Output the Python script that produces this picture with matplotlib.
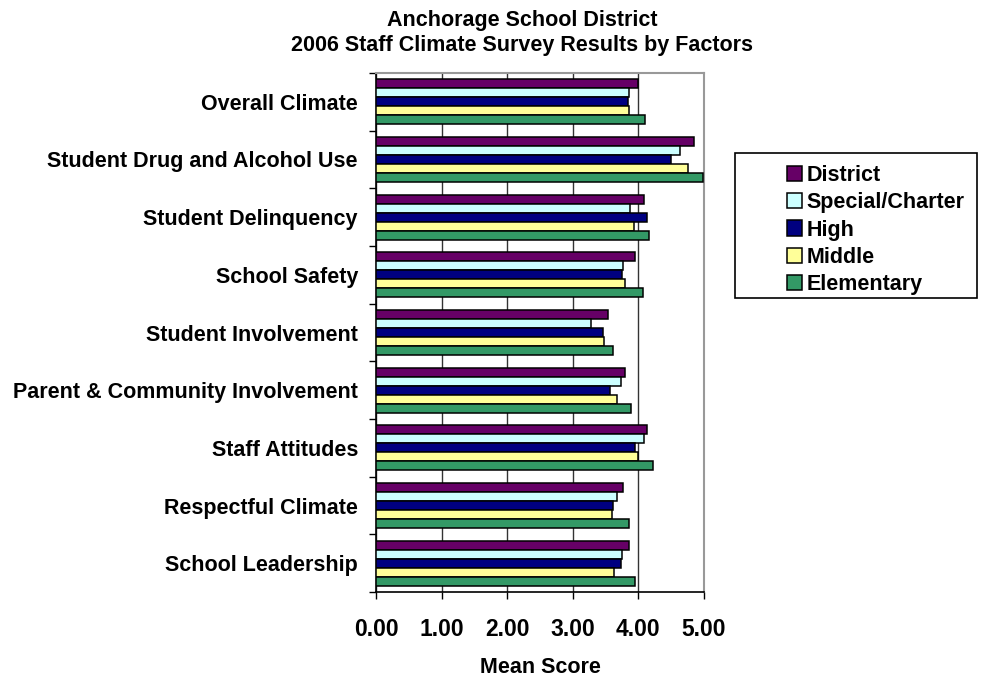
import matplotlib.pyplot as plt
from matplotlib.patches import Rectangle, Patch
import numpy as np

plt.rcParams['font.family'] = ['Liberation Sans', 'DejaVu Sans']
plt.rcParams['font.weight'] = 'bold'

factors = ["Overall Climate", "Student Drug and Alcohol Use", "Student Delinquency",
           "School Safety", "Student Involvement", "Parent & Community Involvement",
           "Staff Attitudes", "Respectful Climate", "School Leadership"]

series_names = ["District", "Special/Charter", "High", "Middle", "Elementary"]
district = [4.00, 4.84, 4.09, 3.95, 3.54, 3.79, 4.13, 3.76, 3.86]
special = [3.86, 4.63, 3.87, 3.76, 3.28, 3.73, 4.08, 3.68, 3.75]
high = [3.84, 4.50, 4.13, 3.75, 3.46, 3.57, 3.95, 3.61, 3.73]
middle = [3.86, 4.76, 3.93, 3.79, 3.47, 3.67, 3.99, 3.59, 3.63]
elementary = [4.10, 4.99, 4.16, 4.07, 3.61, 3.89, 4.22, 3.86, 3.95]
colors = ["#660066", "#CCFFFF", "#000080", "#FFFF99", "#339966"]

fig = plt.figure(figsize=(10.04, 6.79), dpi=100)
ax = fig.add_axes([0.3745, 0.1281, 0.3267, 0.7644])

y = np.arange(len(factors))
h = 0.156
for j, vals in enumerate([district, special, high, middle, elementary]):
    ax.barh(y + (j - 2) * h, vals, height=h, color=colors[j],
            edgecolor='black', linewidth=1.1, zorder=3)

ax.set_xlim(0, 5)
ax.set_ylim(len(factors) - 0.5, -0.5)
ax.set_xticks(np.arange(0, 6))
ax.set_xticklabels(["%.2f" % v for v in np.arange(0, 6)], fontsize=16.5, fontweight='bold')
ax.tick_params(axis='x', length=5, width=1, pad=14, direction='out')
ax.set_yticks(y)
ax.set_yticklabels(factors, fontsize=15.5, fontweight='bold')
ax.tick_params(axis='y', which='major', length=0, pad=13)
ax.set_yticks(np.arange(-0.5, len(factors)), minor=True)
ax.tick_params(axis='y', which='minor', length=5, width=1, direction='out')
ax.grid(axis='x', color='#333333', linewidth=1, zorder=0)

ax.spines['top'].set_color('#999999')
ax.spines['right'].set_color('#999999')
ax.spines['top'].set_linewidth(1.5)
ax.spines['right'].set_linewidth(1.5)
ax.spines['left'].set_linewidth(1.2)
ax.spines['bottom'].set_linewidth(1.2)

ax.set_xlabel("Mean Score", fontsize=15.5, fontweight='bold', labelpad=11)

fig.text(0.52, 1 - 10 / 679,
         "Anchorage School District\n2006 Staff Climate Survey Results by Factors",
         ha='center', va='top', fontsize=15.5, fontweight='bold', linespacing=1.25)

# legend box
fig.patches.append(Rectangle((735 / 1004, 1 - 298 / 679), 242 / 1004, 145 / 679,
                             transform=fig.transFigure, facecolor='white',
                             edgecolor='black', linewidth=1.2))
handles = [Patch(facecolor=c, edgecolor='black', linewidth=1.1) for c in colors]
leg = fig.legend(handles, series_names, loc='upper left',
                 bbox_to_anchor=(772 / 1004, 1 - 150 / 679), frameon=False,
                 fontsize=15.5, handlelength=0.7, handleheight=0.7,
                 handletextpad=0.2, labelspacing=0.29, borderpad=0.2)
for t in leg.get_texts():
    t.set_fontweight('bold')

fig.savefig("out.png", dpi=100)
